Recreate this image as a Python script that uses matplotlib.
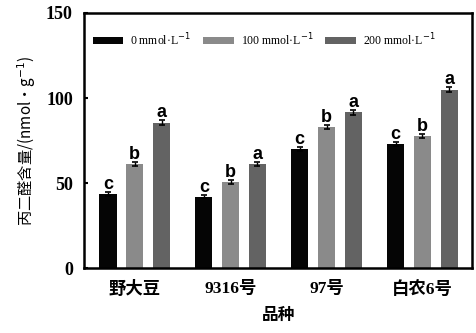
import matplotlib
matplotlib.use("Agg")
import matplotlib.pyplot as plt
import numpy as np

plt.rcParams['font.family'] = ['Liberation Serif', 'Noto Sans CJK SC']

varieties = ["野大豆", "9316号", "97号", "白农6号"]
treatments = ["0 mmol·L$^{-1}$", "100 mmol·L$^{-1}$", "200 mmol·L$^{-1}$"]
mda = [
    [43.5, 42.0, 70.0, 73.0],
    [61.0, 50.5, 83.0, 77.5],
    [85.5, 61.0, 91.5, 105.0],
]
errs = [
    [1.0, 1.0, 1.2, 1.0],
    [1.2, 1.0, 1.2, 1.2],
    [1.5, 1.2, 1.5, 1.2],
]
letters = [
    ["c", "c", "c", "c"],
    ["b", "b", "b", "b"],
    ["a", "a", "a", "a"],
]
colors = ["#050505", "#8a8a8a", "#636363"]

fig = plt.figure(figsize=(4.77, 3.33), dpi=100)
ax = fig.add_axes([0.176, 0.195, 0.814, 0.766])

x = np.arange(len(varieties))
width = 0.18
offsets = [-0.28, 0.0, 0.28]
for i in range(3):
    ax.bar(x + offsets[i], mda[i], width, color=colors[i], label=treatments[i],
           yerr=errs[i], capsize=2.5, error_kw=dict(elinewidth=1, capthick=1.2, ecolor="black"))
    for j in range(len(varieties)):
        ax.text(x[j] + offsets[i], mda[i][j] + errs[i][j] - 0.5, letters[i][j],
                ha="center", va="bottom", fontsize=13, fontweight="bold",
                family="Liberation Sans")

ax.set_xlim(-0.53, 3.52)
ax.set_ylim(0, 150)
ax.set_yticks([0, 50, 100, 150])
ax.set_xticks(x)
ax.set_xticklabels(varieties, fontsize=12.5, fontweight="bold",
                   family=["Liberation Serif", "Noto Sans CJK SC"])
ax.tick_params(axis="y", direction="in", length=3, width=1.5, labelsize=13, pad=8)
ax.tick_params(axis="x", direction="in", length=0, pad=9)
for lab in ax.get_yticklabels():
    lab.set_fontweight("bold")
for s in ax.spines.values():
    s.set_linewidth(1.8)

ax.set_xlabel("品种", fontsize=12, fontweight="bold", family="Noto Sans CJK SC", labelpad=6)
ax.set_ylabel("丙二醛含量/(nmol·g$^{-1}$)", fontsize=11,
              family=["Noto Sans CJK SC", "Liberation Serif"], labelpad=6)

ax.legend(loc="upper left", ncol=3, frameon=False, fontsize=8.5,
          bbox_to_anchor=(-0.005, 0.97), handlelength=2.6, handleheight=0.5,
          columnspacing=1.0, handletextpad=0.6)

fig.savefig("out.png", dpi=100)
